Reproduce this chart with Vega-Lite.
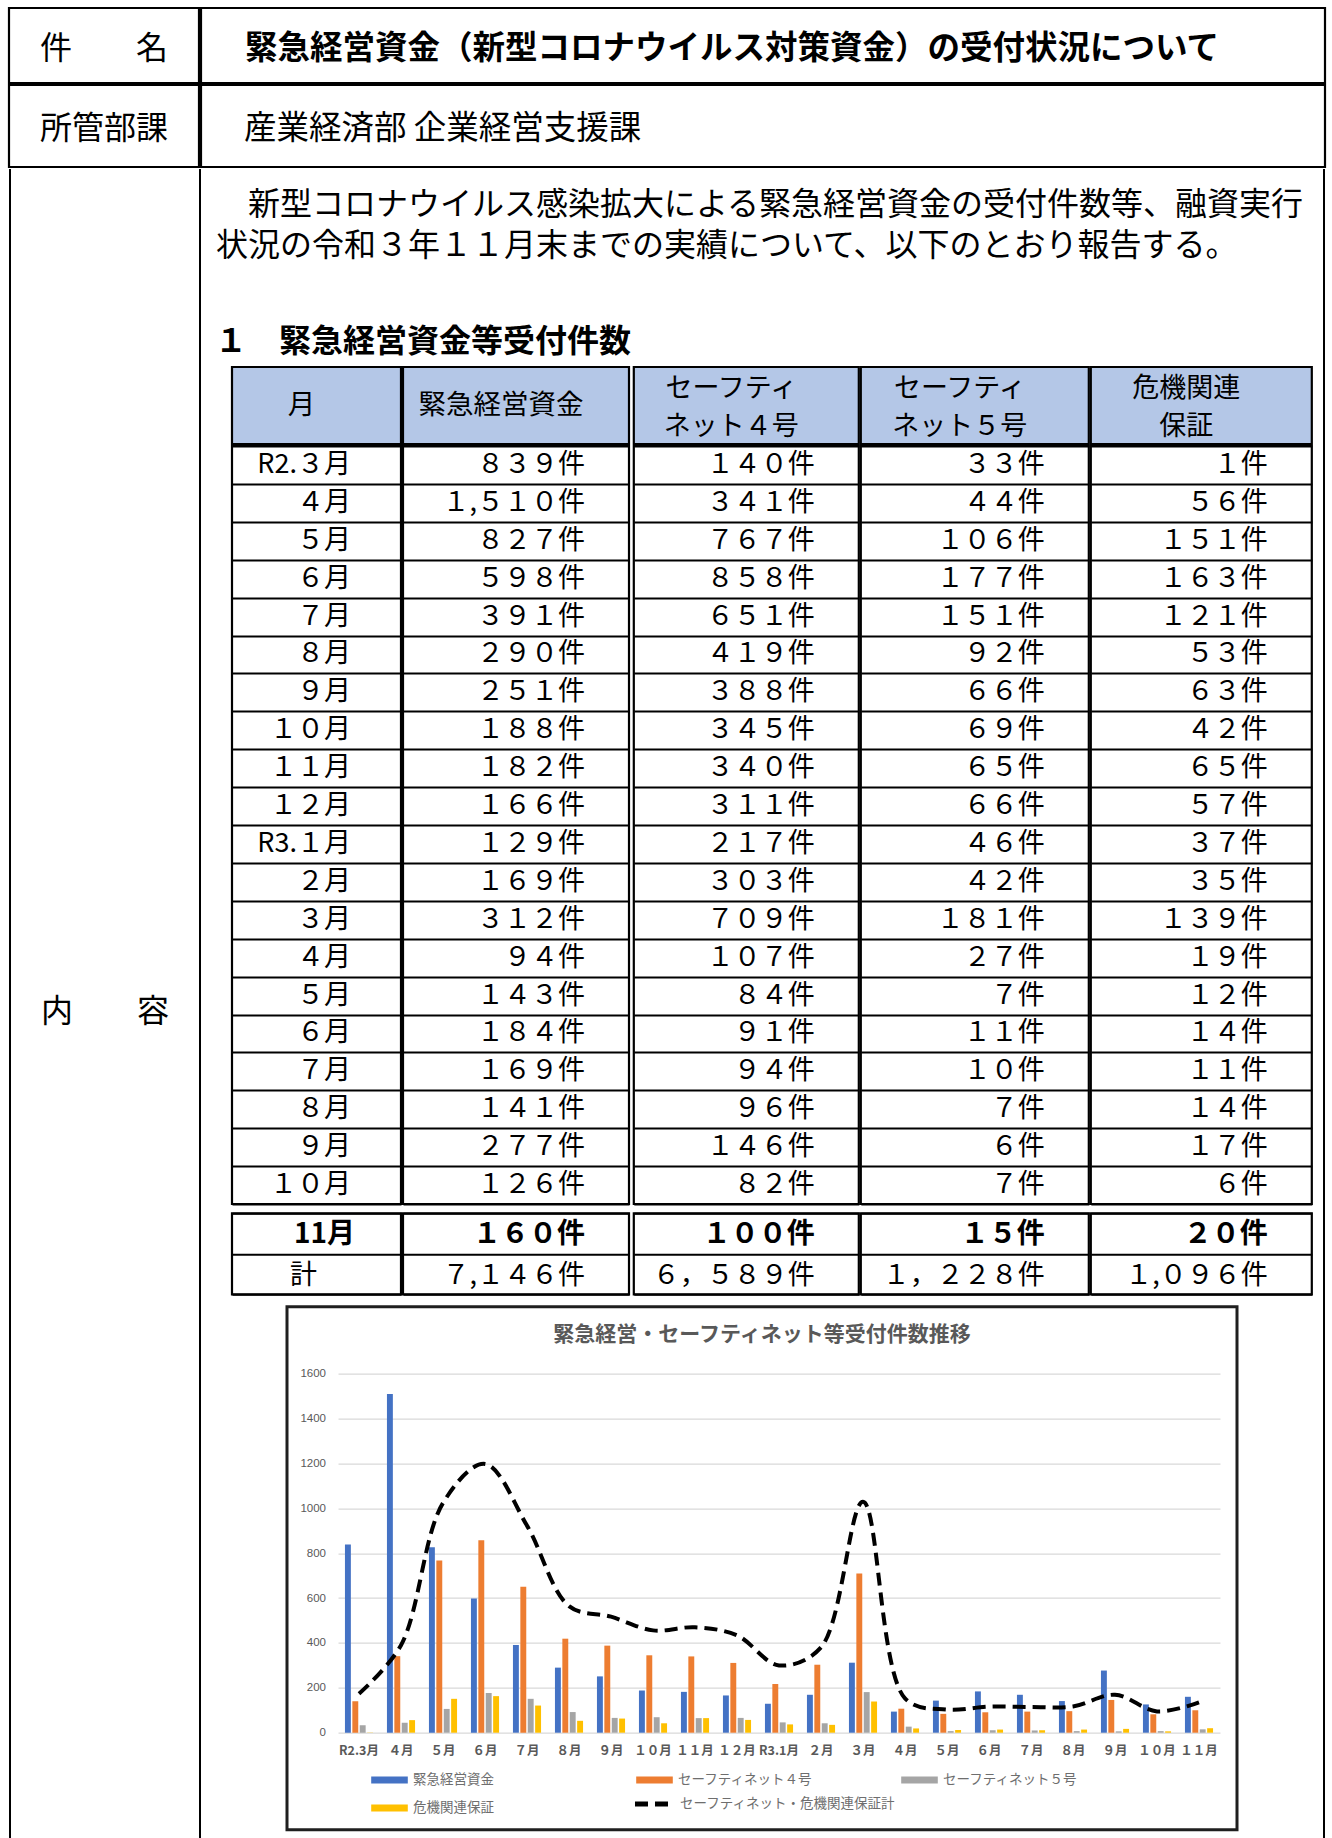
{
 "$schema": "https://vega.github.io/schema/vega-lite/v6.json",
 "background": "white",
 "padding": {"left": 7, "top": 6, "right": 0, "bottom": 0},
 "config": {
  "font": "Noto Sans CJK JP",
  "view": {"stroke": null},
  "axis": {"minExtent": 0}
 },
 "datasets": {
  "months": [
   {"k":"01","month":"R2.３月","緊急経営資金":839,"セーフティネット４号":140,"セーフティネット５号":33,"危機関連保証":1,"total":174,"t1":"８３９件","t2":"１４０件","t3":"３３件","t4":"１件"},
   {"k":"02","month":"４月","緊急経営資金":1510,"セーフティネット４号":341,"セーフティネット５号":44,"危機関連保証":56,"total":390,"t1":"１,５１０件","t2":"３４１件","t3":"４４件","t4":"５６件"},
   {"k":"03","month":"５月","緊急経営資金":827,"セーフティネット４号":767,"セーフティネット５号":106,"危機関連保証":151,"total":1024,"t1":"８２７件","t2":"７６７件","t3":"１０６件","t4":"１５１件"},
   {"k":"04","month":"６月","緊急経営資金":598,"セーフティネット４号":858,"セーフティネット５号":177,"危機関連保証":163,"total":1198,"t1":"５９８件","t2":"８５８件","t3":"１７７件","t4":"１６３件"},
   {"k":"05","month":"７月","緊急経営資金":391,"セーフティネット４号":651,"セーフティネット５号":151,"危機関連保証":121,"total":923,"t1":"３９１件","t2":"６５１件","t3":"１５１件","t4":"１２１件"},
   {"k":"06","month":"８月","緊急経営資金":290,"セーフティネット４号":419,"セーフティネット５号":92,"危機関連保証":53,"total":564,"t1":"２９０件","t2":"４１９件","t3":"９２件","t4":"５３件"},
   {"k":"07","month":"９月","緊急経営資金":251,"セーフティネット４号":388,"セーフティネット５号":66,"危機関連保証":63,"total":517,"t1":"２５１件","t2":"３８８件","t3":"６６件","t4":"６３件"},
   {"k":"08","month":"１０月","緊急経営資金":188,"セーフティネット４号":345,"セーフティネット５号":69,"危機関連保証":42,"total":456,"t1":"１８８件","t2":"３４５件","t3":"６９件","t4":"４２件"},
   {"k":"09","month":"１１月","緊急経営資金":182,"セーフティネット４号":340,"セーフティネット５号":65,"危機関連保証":65,"total":470,"t1":"１８２件","t2":"３４０件","t3":"６５件","t4":"６５件"},
   {"k":"10","month":"１２月","緊急経営資金":166,"セーフティネット４号":311,"セーフティネット５号":66,"危機関連保証":57,"total":434,"t1":"１６６件","t2":"３１１件","t3":"６６件","t4":"５７件"},
   {"k":"11","month":"R3.１月","緊急経営資金":129,"セーフティネット４号":217,"セーフティネット５号":46,"危機関連保証":37,"total":300,"t1":"１２９件","t2":"２１７件","t3":"４６件","t4":"３７件"},
   {"k":"12","month":"２月","緊急経営資金":169,"セーフティネット４号":303,"セーフティネット５号":42,"危機関連保証":35,"total":380,"t1":"１６９件","t2":"３０３件","t3":"４２件","t4":"３５件"},
   {"k":"13","month":"３月","緊急経営資金":312,"セーフティネット４号":709,"セーフティネット５号":181,"危機関連保証":139,"total":1029,"t1":"３１２件","t2":"７０９件","t3":"１８１件","t4":"１３９件"},
   {"k":"14","month":"４月","緊急経営資金":94,"セーフティネット４号":107,"セーフティネット５号":27,"危機関連保証":19,"total":153,"t1":"９４件","t2":"１０７件","t3":"２７件","t4":"１９件"},
   {"k":"15","month":"５月","緊急経営資金":143,"セーフティネット４号":84,"セーフティネット５号":7,"危機関連保証":12,"total":103,"t1":"１４３件","t2":"８４件","t3":"７件","t4":"１２件"},
   {"k":"16","month":"６月","緊急経営資金":184,"セーフティネット４号":91,"セーフティネット５号":11,"危機関連保証":14,"total":116,"t1":"１８４件","t2":"９１件","t3":"１１件","t4":"１４件"},
   {"k":"17","month":"７月","緊急経営資金":169,"セーフティネット４号":94,"セーフティネット５号":10,"危機関連保証":11,"total":115,"t1":"１６９件","t2":"９４件","t3":"１０件","t4":"１１件"},
   {"k":"18","month":"８月","緊急経営資金":141,"セーフティネット４号":96,"セーフティネット５号":7,"危機関連保証":14,"total":117,"t1":"１４１件","t2":"９６件","t3":"７件","t4":"１４件"},
   {"k":"19","month":"９月","緊急経営資金":277,"セーフティネット４号":146,"セーフティネット５号":6,"危機関連保証":17,"total":169,"t1":"２７７件","t2":"１４６件","t3":"６件","t4":"１７件"},
   {"k":"20","month":"１０月","緊急経営資金":126,"セーフティネット４号":82,"セーフティネット５号":7,"危機関連保証":6,"total":95,"t1":"１２６件","t2":"８２件","t3":"７件","t4":"６件"},
   {"k":"21","month":"11月","緊急経営資金":160,"セーフティネット４号":100,"セーフティネット５号":15,"危機関連保証":20,"total":135,"t1":"１６０件","t2":"１００件","t3":"１５件","t4":"２０件"}
  ],
  "totals": [
   {"k":"計","month":"計","t1":"７,１４６件","t2":"６，５８９件","t3":"１，２２８件","t4":"１,０９６件"}
  ]
 },
 "spacing": -1.1,
 "vconcat": [
  {"vconcat": [
   {"hconcat": [
     {"width": 190, "height": 75, "data": {"values": [{"t": "件　　名"}]},
      "mark": {"type": "text", "fontSize": 32, "dy": 3},
      "encoding": {"text": {"field": "t"}},
      "view": {"stroke": "black", "strokeWidth": 2.2}},
     {"width": 1124, "height": 75, "data": {"values": [{"t": "緊急経営資金（新型コロナウイルス対策資金）の受付状況について"}]},
      "mark": {"type": "text", "align": "left", "fontSize": 32.5, "fontWeight": "bold", "dx": 44, "dy": 3},
      "encoding": {"x": {"value": 0}, "text": {"field": "t"}},
      "view": {"stroke": "black", "strokeWidth": 2.2}}
    ], "spacing": -2.2},
   {"hconcat": [
     {"width": 190, "height": 82, "data": {"values": [{"t": "所管部課"}]},
      "mark": {"type": "text", "fontSize": 32, "dy": 3},
      "encoding": {"text": {"field": "t"}},
      "view": {"stroke": "black", "strokeWidth": 2.2}},
     {"width": 1124, "height": 82, "data": {"values": [{"t": "産業経済部 企業経営支援課"}]},
      "mark": {"type": "text", "align": "left", "fontSize": 32.5, "dx": 43, "dy": 3},
      "encoding": {"x": {"value": 0}, "text": {"field": "t"}},
      "view": {"stroke": "black", "strokeWidth": 2.2}}
    ], "spacing": -2.2}
  ], "spacing": -2.2},
  {"hconcat": [
    {"width": 2, "height": 1674, "data": {"values": []}, "mark": "point", "view": {"fill": "black"}},
    {"width": 188, "height": 1674, "data": {"values": [{"t": "内　　容"}]},
     "mark": {"type": "text", "fontSize": 32, "dy": 6},
     "encoding": {"text": {"field": "t"}}},
    {"width": 2, "height": 1674, "data": {"values": []}, "mark": "point", "view": {"fill": "black"}},
    {"vconcat": [
      {"vconcat": [
        {"width": 1122, "height": 113,
         "data": {"values": [
           {"n": 1, "t": "新型コロナウイルス感染拡大による緊急経営資金の受付件数等、融資実行"},
           {"n": 2, "t": "状況の令和３年１１月末までの実績について、以下のとおり報告する。"}
         ]},
         "encoding": {
           "x": {"value": 0},
           "y": {"field": "n", "type": "ordinal", "axis": null, "scale": {"type": "band", "paddingInner": 0, "paddingOuter": 0.378}},
           "text": {"field": "t"}
         },
         "layer": [
           {"transform": [{"filter": "datum.n == 1"}], "mark": {"type": "text", "align": "left", "fontSize": 32, "dx": 47}},
           {"transform": [{"filter": "datum.n == 2"}], "mark": {"type": "text", "align": "left", "fontSize": 32, "dx": 15}}
         ]},
        {"width": 1122, "height": 82.3,
         "data": {"values": [{"t": "１　緊急経営資金等受付件数"}]},
         "mark": {"type": "text", "align": "left", "fontSize": 32, "fontWeight": "bold", "dx": 14, "dy": 18.5},
         "encoding": {"x": {"value": 0}, "text": {"field": "t"}}},
        {"hconcat": [
          {"width": 29, "height": 1, "data": {"values": []}, "mark": "point"},
          {"vconcat": [
            {"vconcat": [
              {"hconcat": [
                {"hconcat": [
                  {"width": 169, "height": 77, "data": {"values": [{"h": "月"}]},
                   "mark": {"type": "text", "fontSize": 27.5, "dx": -15},
                   "encoding": {"text": {"field": "h"}},
                   "view": {"stroke": "black", "strokeWidth": 2.2, "fill": "#b4c7e7"}},
                  {"width": 226, "height": 77, "data": {"values": [{"h": "緊急経営資金"}]},
                   "mark": {"type": "text", "fontSize": 27.5, "dx": -15},
                   "encoding": {"text": {"field": "h"}},
                   "view": {"stroke": "black", "strokeWidth": 2.2, "fill": "#b4c7e7"}}
                 ], "spacing": -2.2},
                {"hconcat": [
                  {"width": 225, "height": 77, "data": {"values": [{"a": "セーフティ", "b": "ネット４号"}]},
                   "layer": [
                     {"mark": {"type": "text", "fontSize": 27, "dx": -15, "dy": -16.3}, "encoding": {"text": {"field": "a"}}},
                     {"mark": {"type": "text", "fontSize": 27, "dx": -15, "dy": 21}, "encoding": {"text": {"field": "b"}}}
                   ],
                   "view": {"stroke": "black", "strokeWidth": 2.2, "fill": "#b4c7e7"}},
                  {"width": 228, "height": 77, "data": {"values": [{"a": "セーフティ", "b": "ネット５号"}]},
                   "layer": [
                     {"mark": {"type": "text", "fontSize": 27, "dx": -15, "dy": -16.3}, "encoding": {"text": {"field": "a"}}},
                     {"mark": {"type": "text", "fontSize": 27, "dx": -15, "dy": 21}, "encoding": {"text": {"field": "b"}}}
                   ],
                   "view": {"stroke": "black", "strokeWidth": 2.2, "fill": "#b4c7e7"}},
                  {"width": 221, "height": 77, "data": {"values": [{"a": "危機関連", "b": "保証"}]},
                   "layer": [
                     {"mark": {"type": "text", "fontSize": 27, "dx": -15, "dy": -16.3}, "encoding": {"text": {"field": "a"}}},
                     {"mark": {"type": "text", "fontSize": 27, "dx": -15, "dy": 21}, "encoding": {"text": {"field": "b"}}}
                   ],
                   "view": {"stroke": "black", "strokeWidth": 2.2, "fill": "#b4c7e7"}}
                 ], "spacing": -2.2}
               ], "spacing": 0.8},
              {"hconcat": [
                {"hconcat": [
                  {"width": 169, "height": 758, "data": {"name": "months"}, "transform": [{"filter": "datum.k != '21'"}],
                   "mark": {"type": "text", "align": "right", "fontSize": 27, "dx": -50},
                   "encoding": {
                     "y": {"field": "k", "type": "ordinal", "scale": {"type": "band", "paddingInner": 0, "paddingOuter": 0},
                           "axis": {"title": null, "labels": false, "ticks": false, "domain": false, "grid": true, "tickBand": "extent", "gridColor": "black", "gridWidth": 2, "gridOpacity": 1}},
                     "x": {"value": "width"}, "text": {"field": "month"}},
                   "view": {"stroke": "black", "strokeWidth": 2.2}},
                  {"width": 226, "height": 758, "data": {"name": "months"}, "transform": [{"filter": "datum.k != '21'"}],
                   "mark": {"type": "text", "align": "right", "fontSize": 27, "dx": -44},
                   "encoding": {
                     "y": {"field": "k", "type": "ordinal", "scale": {"type": "band", "paddingInner": 0, "paddingOuter": 0},
                           "axis": {"title": null, "labels": false, "ticks": false, "domain": false, "grid": true, "tickBand": "extent", "gridColor": "black", "gridWidth": 2, "gridOpacity": 1}},
                     "x": {"value": "width"}, "text": {"field": "t1"}},
                   "view": {"stroke": "black", "strokeWidth": 2.2}}
                 ], "spacing": -2.2},
                {"hconcat": [
                  {"width": 225, "height": 758, "data": {"name": "months"}, "transform": [{"filter": "datum.k != '21'"}],
                   "mark": {"type": "text", "align": "right", "fontSize": 27, "dx": -44},
                   "encoding": {
                     "y": {"field": "k", "type": "ordinal", "scale": {"type": "band", "paddingInner": 0, "paddingOuter": 0},
                           "axis": {"title": null, "labels": false, "ticks": false, "domain": false, "grid": true, "tickBand": "extent", "gridColor": "black", "gridWidth": 2, "gridOpacity": 1}},
                     "x": {"value": "width"}, "text": {"field": "t2"}},
                   "view": {"stroke": "black", "strokeWidth": 2.2}},
                  {"width": 228, "height": 758, "data": {"name": "months"}, "transform": [{"filter": "datum.k != '21'"}],
                   "mark": {"type": "text", "align": "right", "fontSize": 27, "dx": -44},
                   "encoding": {
                     "y": {"field": "k", "type": "ordinal", "scale": {"type": "band", "paddingInner": 0, "paddingOuter": 0},
                           "axis": {"title": null, "labels": false, "ticks": false, "domain": false, "grid": true, "tickBand": "extent", "gridColor": "black", "gridWidth": 2, "gridOpacity": 1}},
                     "x": {"value": "width"}, "text": {"field": "t3"}},
                   "view": {"stroke": "black", "strokeWidth": 2.2}},
                  {"width": 221, "height": 758, "data": {"name": "months"}, "transform": [{"filter": "datum.k != '21'"}],
                   "mark": {"type": "text", "align": "right", "fontSize": 27, "dx": -44},
                   "encoding": {
                     "y": {"field": "k", "type": "ordinal", "scale": {"type": "band", "paddingInner": 0, "paddingOuter": 0},
                           "axis": {"title": null, "labels": false, "ticks": false, "domain": false, "grid": true, "tickBand": "extent", "gridColor": "black", "gridWidth": 2, "gridOpacity": 1}},
                     "x": {"value": "width"}, "text": {"field": "t4"}},
                   "view": {"stroke": "black", "strokeWidth": 2.2}}
                 ], "spacing": -2.2}
               ], "spacing": 0.8}
             ], "spacing": -2.2},
            {"hconcat": [
              {"hconcat": [
                {"width": 169, "height": 81,
                 "encoding": {"y": {"field": "k", "type": "ordinal", "scale": {"type": "band", "domain": ["21", "計"], "paddingInner": 0, "paddingOuter": 0},
                   "axis": {"title": null, "labels": false, "ticks": false, "domain": false, "grid": true, "tickBand": "extent", "gridColor": "black", "gridWidth": 2, "gridOpacity": 1}}},
                 "layer": [
                   {"data": {"name": "months"}, "transform": [{"filter": "datum.k == '21'"}],
                    "mark": {"type": "text", "align": "right", "fontSize": 28, "fontWeight": "bold", "dx": -46, "dy": 1.5},
                    "encoding": {"x": {"value": "width"}, "text": {"field": "month"}}},
                   {"data": {"name": "totals"},
                    "mark": {"type": "text", "fontSize": 27, "dx": -13, "dy": 1.5},
                    "encoding": {"text": {"field": "month"}}}
                 ],
                 "view": {"stroke": "black", "strokeWidth": 2.2}},
                {"width": 226, "height": 81,
                 "encoding": {"y": {"field": "k", "type": "ordinal", "scale": {"type": "band", "domain": ["21", "計"], "paddingInner": 0, "paddingOuter": 0},
                   "axis": {"title": null, "labels": false, "ticks": false, "domain": false, "grid": true, "tickBand": "extent", "gridColor": "black", "gridWidth": 2, "gridOpacity": 1}},
                   "x": {"value": "width"}, "text": {"field": "t1"}},
                 "layer": [
                   {"data": {"name": "months"}, "transform": [{"filter": "datum.k == '21'"}],
                    "mark": {"type": "text", "align": "right", "fontSize": 28, "fontWeight": "bold", "dx": -44, "dy": 1.5}},
                   {"data": {"name": "totals"},
                    "mark": {"type": "text", "align": "right", "fontSize": 27, "dx": -44, "dy": 1.5}}
                 ],
                 "view": {"stroke": "black", "strokeWidth": 2.2}}
               ], "spacing": -2.2},
              {"hconcat": [
                {"width": 225, "height": 81,
                 "encoding": {"y": {"field": "k", "type": "ordinal", "scale": {"type": "band", "domain": ["21", "計"], "paddingInner": 0, "paddingOuter": 0},
                   "axis": {"title": null, "labels": false, "ticks": false, "domain": false, "grid": true, "tickBand": "extent", "gridColor": "black", "gridWidth": 2, "gridOpacity": 1}},
                   "x": {"value": "width"}, "text": {"field": "t2"}},
                 "layer": [
                   {"data": {"name": "months"}, "transform": [{"filter": "datum.k == '21'"}],
                    "mark": {"type": "text", "align": "right", "fontSize": 28, "fontWeight": "bold", "dx": -44, "dy": 1.5}},
                   {"data": {"name": "totals"},
                    "mark": {"type": "text", "align": "right", "fontSize": 27, "dx": -44, "dy": 1.5}}
                 ],
                 "view": {"stroke": "black", "strokeWidth": 2.2}},
                {"width": 228, "height": 81,
                 "encoding": {"y": {"field": "k", "type": "ordinal", "scale": {"type": "band", "domain": ["21", "計"], "paddingInner": 0, "paddingOuter": 0},
                   "axis": {"title": null, "labels": false, "ticks": false, "domain": false, "grid": true, "tickBand": "extent", "gridColor": "black", "gridWidth": 2, "gridOpacity": 1}},
                   "x": {"value": "width"}, "text": {"field": "t3"}},
                 "layer": [
                   {"data": {"name": "months"}, "transform": [{"filter": "datum.k == '21'"}],
                    "mark": {"type": "text", "align": "right", "fontSize": 28, "fontWeight": "bold", "dx": -44, "dy": 1.5}},
                   {"data": {"name": "totals"},
                    "mark": {"type": "text", "align": "right", "fontSize": 27, "dx": -44, "dy": 1.5}}
                 ],
                 "view": {"stroke": "black", "strokeWidth": 2.2}},
                {"width": 221, "height": 81,
                 "encoding": {"y": {"field": "k", "type": "ordinal", "scale": {"type": "band", "domain": ["21", "計"], "paddingInner": 0, "paddingOuter": 0},
                   "axis": {"title": null, "labels": false, "ticks": false, "domain": false, "grid": true, "tickBand": "extent", "gridColor": "black", "gridWidth": 2, "gridOpacity": 1}},
                   "x": {"value": "width"}, "text": {"field": "t4"}},
                 "layer": [
                   {"data": {"name": "months"}, "transform": [{"filter": "datum.k == '21'"}],
                    "mark": {"type": "text", "align": "right", "fontSize": 28, "fontWeight": "bold", "dx": -44, "dy": 1.5}},
                   {"data": {"name": "totals"},
                    "mark": {"type": "text", "align": "right", "fontSize": 27, "dx": -44, "dy": 1.5}}
                 ],
                 "view": {"stroke": "black", "strokeWidth": 2.2}}
               ], "spacing": -2.2}
             ], "spacing": 0.8}
           ], "spacing": 5.3}
         ], "spacing": 0}
       ], "spacing": 0},
      {"hconcat": [
        {"width": 84, "height": 1, "data": {"values": []}, "mark": "point"},
        {"width": 950, "height": 523,
         "view": {"stroke": "#1f1f1f", "strokeWidth": 3},
         "title": {"text": "緊急経営・セーフティネット等受付件数推移", "fontSize": 21, "fontWeight": "bold", "color": "#595959", "anchor": "middle", "frame": "group", "offset": -38},
         "data": {"name": "months"},
         "layer": [
           {"transform": [{"fold": ["緊急経営資金", "セーフティネット４号", "セーフティネット５号", "危機関連保証"], "as": ["s", "v"]}],
            "mark": {"type": "bar"},
            "encoding": {
              "x": {"field": "k", "type": "ordinal", "scale": {"range": [51, 933], "paddingInner": 0, "paddingOuter": 0},
                    "axis": {"title": null, "labelExpr": "['R2.3月','４月','５月','６月','７月','８月','９月','１０月','１１月','１２月','R3.1月','２月','３月','４月','５月','６月','７月','８月','９月','１０月','１１月'][parseInt(datum.value) - 1]",
                             "labelAngle": 0, "labelFontSize": 12.5, "labelFontWeight": "bold", "labelColor": "#595959", "ticks": false, "tickSize": 0, "domain": false, "grid": false, "offset": -97, "labelPadding": 12}},
              "xOffset": {"field": "s", "type": "nominal", "scale": {"domain": ["緊急経営資金", "セーフティネット４号", "セーフティネット５号", "危機関連保証"], "paddingInner": 0.2, "paddingOuter": 0.94}},
              "y": {"field": "v", "type": "quantitative", "scale": {"domain": [0, 1600], "range": [426, 67], "nice": false},
                    "axis": {"title": null, "values": [0, 200, 400, 600, 800, 1000, 1200, 1400, 1600], "format": "d", "domain": false, "ticks": false, "tickSize": 0, "grid": true, "gridColor": "#d9d9d9", "gridWidth": 1.3, "labelFontSize": 11.5, "labelFont": "Liberation Sans", "labelColor": "#595959", "offset": -40.5, "labelPadding": 2}},
              "color": {"field": "s", "type": "nominal",
                        "scale": {"domain": ["緊急経営資金", "セーフティネット４号", "セーフティネット５号", "危機関連保証"], "range": ["#4472c4", "#ed7d31", "#a5a5a5", "#ffc000"]},
                        "legend": {"title": null, "orient": "none", "legendX": 362, "legendY": 1753.5, "direction": "horizontal", "columns": 3, "gridAlign": "all", "columnPadding": 88, "rowPadding": 3,
                                   "symbolType": "M-1,-0.19H1V0.19H-1Z", "symbolSize": 1340, "symbolStrokeWidth": 0, "labelFontSize": 13.5, "labelColor": "#6e6e6e", "labelOffset": 5, "labelLimit": 400, "padding": 0}}
            }},
           {"mark": {"type": "line", "color": "black", "strokeWidth": 4, "interpolate": "catmull-rom"},
            "encoding": {
              "x": {"field": "k", "type": "ordinal"},
              "y": {"field": "total", "type": "quantitative", "axis": {"title": null}},
              "strokeDash": {"datum": "セーフティネット・危機関連保証計", "type": "nominal", "scale": {"range": [[13, 7]]},
                             "legend": {"title": null, "orient": "none", "legendX": 623, "legendY": 1774.5, "symbolType": "stroke", "symbolSize": 1370, "symbolStrokeWidth": 5, "symbolDash": [14, 12], "symbolStrokeColor": "black", "labelFontSize": 13.5, "labelColor": "#6e6e6e", "labelOffset": 5, "labelLimit": 400, "padding": 0}}
            }}
         ]}
       ], "spacing": 0}
     ], "spacing": 8.7},
    {"width": 2, "height": 1674, "data": {"values": []}, "mark": "point", "view": {"fill": "black"}}
   ], "spacing": 0}
 ]
}
